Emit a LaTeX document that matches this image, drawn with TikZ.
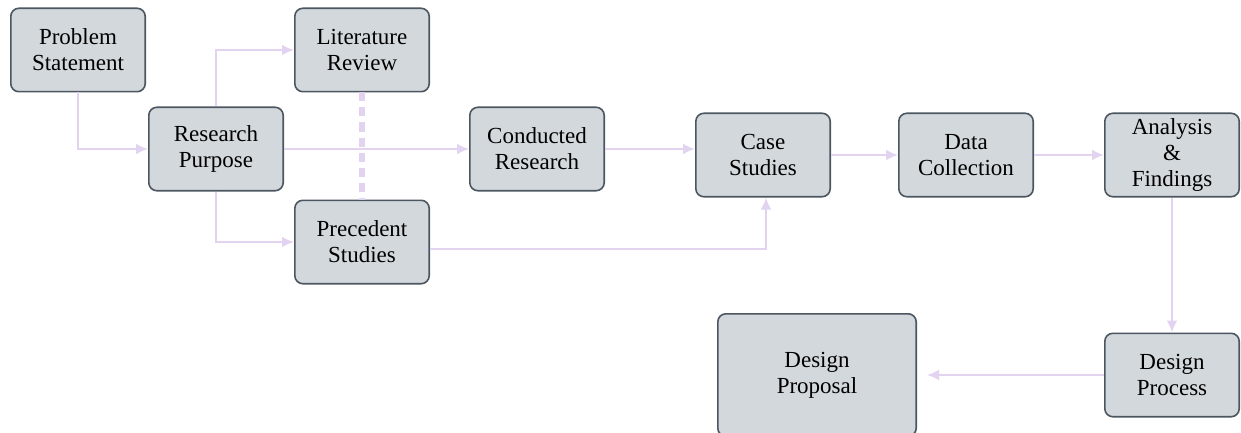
\documentclass[tikz,border=0pt]{standalone}
\usepackage{fontspec}
\setmainfont{Liberation Serif}
\usepackage{tikz}
\usetikzlibrary{arrows.meta}
\usetikzlibrary{positioning}
\definecolor{boxfill}{HTML}{D3D8DC}
\definecolor{boxline}{HTML}{4B5660}
\definecolor{flowline}{HTML}{E2D3F0}

\begin{document}
\begin{tikzpicture}[
    box/.style={
        draw=boxline, fill=boxfill, line width=0.8pt,
        rounded corners=4pt,
        minimum width=67.2pt,
        minimum height=41.7pt,
        inner sep=1pt,
        font=\fontsize{11.5}{13}\selectfont,
        align=center
    },
    flow/.style={
        draw=flowline, line width=1.4pt,
        -{Latex[length=6pt,width=5.5pt]}
    }
]
\useasboundingbox (0,0) rectangle (620.5pt,-216.5pt);
\node[box] (problem) at (39pt,-25pt) {
    Problem \\
    Statement
};
\node[box, below right=7pt and 1pt of problem] (purpose) {
    Research \\
    Purpose
};
\node[box, right=74pt of problem] (literature) {
    Literature \\
    Review
};
\node[box, below=53.5pt of literature] (precedent) {
    Precedent \\
    Studies
};
\node[box, right=92.5pt of purpose] (conducted) {
    Conducted \\
    Research
};
\node[box, right=45pt of conducted, yshift=-3pt] (cases) {
    Case \\
    Studies
};
\node[box, right=33.5pt of cases] (data) {
    Data \\
    Collection
};
\node[box, right=35pt of data] (analysis) {
    Analysis \\
    \& \\
    Findings
};
\node[box, below=67.5pt of analysis] (process) {
    Design \\
    Process
};
\node[box, minimum width=99.2pt, minimum height=61.2pt,
      left=93.5pt of process] (proposal) {
    Design \\
    Proposal
};
% literature and precedent studies run side by side
\draw[draw=flowline, line width=3pt, dash pattern=on 4.5pt off 3pt]
    (literature) -- (precedent);
\draw[flow] (problem.south) |- (purpose.west);
\draw[flow] (purpose.north) |- (literature.west);
\draw[flow] (purpose.south) |- (precedent.west);
\draw[flow] (purpose) -- (conducted);
\draw[flow] (conducted) -- (conducted -| cases.west);
\draw[flow] ([yshift=-3.5pt]precedent.east) -| ([xshift=1.5pt]cases.south);
\draw[flow] (cases) -- (data);
\draw[flow] (data) -- (analysis);
\draw[flow] (analysis) -- (process);
\draw[flow, shorten >=5pt] (process) -- (proposal);
\end{tikzpicture}
\end{document}
